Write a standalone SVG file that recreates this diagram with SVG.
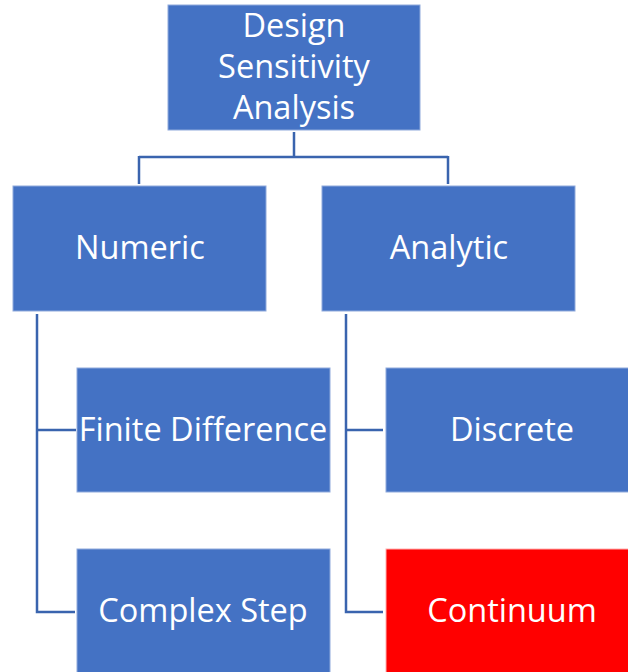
<svg xmlns="http://www.w3.org/2000/svg" width="628" height="672" viewBox="0 0 628 672">
<style>
.box{fill:#4472C4;stroke:#8FAADC;stroke-width:1}
.red{fill:#FF0000;stroke:#FFB0B0;stroke-width:1}
.t{font-family:"Open Sans","Liberation Sans",sans-serif;font-size:32.5px;fill:#FFFFFF;text-anchor:middle}
.c{fill:none;stroke:#3A64AE;stroke-width:2.5}
</style>
<rect width="628" height="672" fill="#FFFFFF"/>
<g id="connectors">
<path class="c" d="M294,132 V157 M139,157 H448 M139,156 V184 M448,156 V184"/>
<path class="c" d="M37,314 V612 H75 M37,430 H76"/>
<path class="c" d="M346,314 V612 H383 M346,430 H383"/>
</g>
<g id="root">
<rect class="box" x="168" y="5" width="252" height="125"/>
<text class="t" x="294" y="37">Design</text>
<text class="t" x="294" y="78">Sensitivity</text>
<text class="t" x="294" y="119">Analysis</text>
</g>
<g id="numeric">
<rect class="box" x="13" y="186" width="253" height="125"/>
<text class="t" x="140" y="259">Numeric</text>
</g>
<g id="analytic">
<rect class="box" x="322" y="186" width="253" height="125"/>
<text class="t" x="449" y="259">Analytic</text>
</g>
<g id="finite">
<rect class="box" x="77" y="368" width="253" height="124"/>
<text class="t" x="203" y="441">Finite Difference</text>
</g>
<g id="complex">
<rect class="box" x="77" y="549" width="253" height="130"/>
<text class="t" x="203" y="622">Complex Step</text>
</g>
<g id="discrete">
<rect class="box" x="386" y="368" width="253" height="124"/>
<text class="t" x="512" y="441">Discrete</text>
</g>
<g id="continuum">
<rect class="red" x="386" y="549" width="253" height="130"/>
<text class="t" x="512" y="622">Continuum</text>
</g>
</svg>
